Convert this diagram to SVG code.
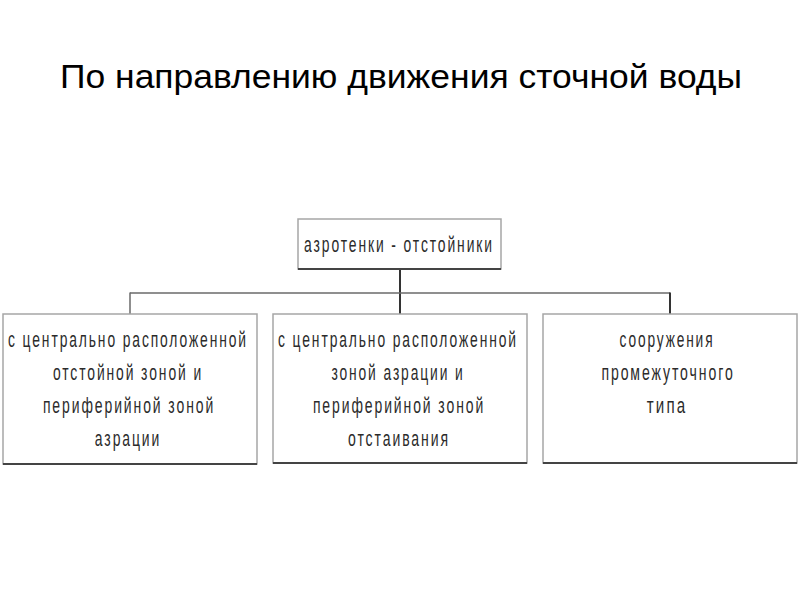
<svg xmlns="http://www.w3.org/2000/svg" width="800" height="600" viewBox="0 0 800 600">
<style>
.title{font-family:"Liberation Sans",Arial,sans-serif;font-size:33px;fill:#000}
.lbl{font-family:"Liberation Sans",Arial,sans-serif;font-size:22px;letter-spacing:3px;fill:#2b2b2b;text-anchor:middle}
.box{fill:#fff;stroke:#a6a6a6;stroke-width:1.5}
.shadow{stroke:#444;stroke-width:2}
.thin{stroke:#6a6a6a;stroke-width:1.5;fill:none}
.thick{stroke:#333;stroke-width:2;fill:none}
</style>
<rect width="800" height="600" fill="#fff"/>
<text class="title" x="60" y="88" textLength="682" lengthAdjust="spacingAndGlyphs">По направлению движения сточной воды</text>
<g id="connectors">
<line class="thick" x1="400" y1="270" x2="400" y2="314"/>
<line class="thin" x1="130" y1="293" x2="670" y2="293"/>
<line class="thin" x1="130" y1="292.5" x2="130" y2="314"/>
<line class="thick" x1="670" y1="292.5" x2="670" y2="314"/>
</g>
<g id="root">
<rect class="box" x="298" y="219" width="203" height="50"/>
<line class="shadow" x1="298" y1="269" x2="501" y2="269"/>
<text class="lbl" transform="translate(399,252) scale(0.65,1)" textLength="292" lengthAdjust="spacingAndGlyphs">азротенки - отстойники</text>
</g>
<g id="left">
<rect class="box" x="3" y="314" width="254" height="150"/>
<line class="shadow" x1="3" y1="464" x2="257" y2="464"/>
<text class="lbl" transform="translate(128,347) scale(0.65,1)" textLength="369" lengthAdjust="spacingAndGlyphs">с центрально расположенной</text>
<text class="lbl" transform="translate(128,380) scale(0.65,1)" textLength="231" lengthAdjust="spacingAndGlyphs">отстойной зоной и</text>
<text class="lbl" transform="translate(129,413) scale(0.65,1)" textLength="265" lengthAdjust="spacingAndGlyphs">периферийной зоной</text>
<text class="lbl" transform="translate(128,446) scale(0.65,1)" textLength="102" lengthAdjust="spacingAndGlyphs">азрации</text>
</g>
<g id="middle">
<rect class="box" x="273" y="314" width="254" height="149"/>
<line class="shadow" x1="273" y1="463" x2="527" y2="463"/>
<text class="lbl" transform="translate(398,347) scale(0.65,1)" textLength="369" lengthAdjust="spacingAndGlyphs">с центрально расположенной</text>
<text class="lbl" transform="translate(398,380) scale(0.65,1)" textLength="205" lengthAdjust="spacingAndGlyphs">зоной азрации и</text>
<text class="lbl" transform="translate(399,413) scale(0.65,1)" textLength="265" lengthAdjust="spacingAndGlyphs">периферийной зоной</text>
<text class="lbl" transform="translate(399,446) scale(0.65,1)" textLength="157" lengthAdjust="spacingAndGlyphs">отстаивания</text>
</g>
<g id="right">
<rect class="box" x="543" y="314" width="254" height="149"/>
<line class="shadow" x1="543" y1="463" x2="797" y2="463"/>
<text class="lbl" transform="translate(667,347) scale(0.65,1)" textLength="146" lengthAdjust="spacingAndGlyphs">сооружения</text>
<text class="lbl" transform="translate(668,380) scale(0.65,1)" textLength="205" lengthAdjust="spacingAndGlyphs">промежуточного</text>
<text class="lbl" transform="translate(667,413) scale(0.65,1)" textLength="62" lengthAdjust="spacingAndGlyphs">типа</text>
</g>
</svg>
